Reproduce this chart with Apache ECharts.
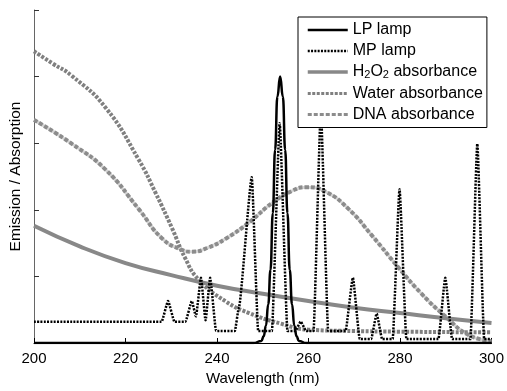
<!DOCTYPE html>
<html>
<head>
<meta charset="utf-8">
<script src="https://cdn.jsdelivr.net/npm/echarts@6/dist/echarts.min.js"></script>
<style>
  html, body { margin: 0; padding: 0; background: #fff; }
  #chart { width: 507px; height: 391px; }
</style>
</head>
<body>
<div id="chart"></div>
<script>
// wavelength ticks (nm)
const xTicks = [200, 220, 240, 260, 280, 300];

// [wavelength, relative value]
const lpLamp = [
  [200, 0], [248, 0], [249.7, 0.03], [250.2, 0.1], [250.7, 0.26], [251.2, 0.58],
  [251.7, 1.1], [252.2, 1.95], [252.7, 2.9], [253.2, 3.7], [253.8, 4.0],
  [254.4, 3.7], [254.9, 2.9], [255.4, 1.95], [255.9, 1.1], [256.4, 0.58],
  [256.9, 0.26], [257.4, 0.1], [257.9, 0.03], [259.5, 0], [300, 0]
];

const mpLamp = [
  [200, 0.32], [227.9, 0.32], [229.3, 0.63], [230.7, 0.32], [233.1, 0.32],
  [234.5, 0.63], [235.4, 0.4], [236.5, 0.98], [237.5, 0.34], [238.5, 0.98],
  [239.8, 0.18], [243.9, 0.18], [244.8, 0.54], [247.6, 2.49], [249.0, 0.18],
  [252.0, 0.18], [253.7, 3.3], [255.4, 0.18], [257.1, 0.18], [258.3, 0.32],
  [259.5, 0.18], [261.1, 0.18], [262.7, 3.5], [264.3, 0.18], [268.1, 0.18],
  [269.7, 0.98], [271.2, 0.06], [273.7, 0.06], [274.9, 0.44], [276.1, 0.06],
  [278.4, 0.06], [279.9, 2.31], [281.4, 0.06], [288.4, 0.06], [289.9, 0.98],
  [291.4, 0.06], [295.4, 0.06], [296.9, 2.99], [298.4, 0.06], [300, 0.06]
];

const h2o2Abs = [
  [200, 1.76], [210, 1.45], [220, 1.2], [230, 1.02], [240, 0.86], [250, 0.74],
  [260, 0.63], [270, 0.53], [280, 0.45], [290, 0.37], [300, 0.3]
];

const waterAbs = [
  [200, 4.38], [204, 4.2], [208.3, 4.01], [215.7, 3.53], [222.9, 2.75],
  [226.6, 2.25], [230.2, 1.72], [233, 1.28], [236, 0.95], [242, 0.62],
  [247, 0.45], [254, 0.29], [260, 0.2], [270, 0.18], [280, 0.17], [300, 0.16]
];

const dnaAbs = [
  [200, 3.35], [208.3, 2.99], [215.7, 2.6], [222.9, 2.01], [228, 1.57],
  [232.3, 1.4], [234.5, 1.37], [238, 1.43], [242, 1.57], [247, 1.81],
  [252, 2.1], [256.3, 2.28], [259.4, 2.34], [263.8, 2.27], [268.8, 2.01],
  [273.8, 1.62], [279.7, 1.13], [284.7, 0.74], [289.9, 0.4], [295, 0.12],
  [300, 0.03]
];

const font = 'Liberation Sans, Arial, sans-serif';

const chart = echarts.init(document.getElementById('chart'));
chart.setOption({
  animation: false,
  backgroundColor: '#fff',
  textStyle: { fontFamily: font },
  grid: { left: 34, right: 14, top: 10, bottom: 41 },
  legend: {
    orient: 'vertical',
    left: 298,
    top: 17,
    padding: [5, 4, 5, 8],
    itemGap: 5,
    itemWidth: 40,
    itemHeight: 14,
    backgroundColor: '#fff',
    borderColor: '#000',
    borderWidth: 1,
    itemStyle: { opacity: 0 },
    textStyle: {
      fontSize: 16,
      color: '#000',
      fontFamily: font,
      rich: {
        n: { fontSize: 16, color: '#000', fontFamily: font },
        s: { fontSize: 11, color: '#000', fontFamily: font, verticalAlign: 'bottom', padding: [6, 0, 0, 0] }
      }
    },
    formatter: name => name === 'H2O2 absorbance'
      ? '{n|H}{s|2}{n|O}{s|2}{n| absorbance}'
      : name,
    data: [
      { name: 'LP lamp', lineStyle: { width: 2.5 } },
      { name: 'MP lamp', lineStyle: { width: 2.5 } },
      { name: 'H2O2 absorbance', lineStyle: { width: 3.5 } },
      { name: 'Water absorbance', lineStyle: { width: 3 } },
      { name: 'DNA absorbance', lineStyle: { width: 3 } }
    ]
  },
  xAxis: {
    type: 'value',
    min: 200,
    max: 300,
    interval: 20,
    name: 'Wavelength (nm)',
    nameLocation: 'middle',
    nameGap: 28,
    nameTextStyle: { fontSize: 15, color: '#000', fontFamily: font },
    axisLine: { lineStyle: { color: '#000', width: 1 } },
    axisTick: { inside: true, length: 5, lineStyle: { color: '#000' } },
    axisLabel: {
      fontSize: 15, color: '#000', margin: 8, fontFamily: font,
      formatter: v => xTicks.includes(v) ? String(v) : ''
    },
    splitLine: { show: false }
  },
  yAxis: {
    type: 'value',
    min: 0,
    max: 5,
    interval: 1,
    name: 'Emission / Absorption',
    nameLocation: 'middle',
    nameGap: 10,
    nameTextStyle: { fontSize: 15.5, color: '#000', fontFamily: font },
    axisLine: { show: true, lineStyle: { color: '#666', width: 1 } },
    axisTick: { show: true, inside: true, length: 5, lineStyle: { color: '#333' } },
    axisLabel: { show: false },
    splitLine: { show: false }
  },
  series: [
    {
      name: 'H2O2 absorbance', type: 'line', data: h2o2Abs, smooth: true,
      symbol: 'none', z: 2,
      lineStyle: { color: '#888', width: 4 }, itemStyle: { color: '#888' }
    },
    {
      name: 'Water absorbance', type: 'line', data: waterAbs, smooth: true,
      symbol: 'none', z: 2,
      lineStyle: { color: '#808080', width: 4, type: [3, 1.5] }, itemStyle: { color: '#808080' }
    },
    {
      // light fill between the DNA dashes
      name: 'DNA underlay', type: 'line', data: dnaAbs, smooth: true,
      symbol: 'none', z: 1, silent: true,
      lineStyle: { color: '#d4d4d4', width: 3 }
    },
    {
      name: 'DNA absorbance', type: 'line', data: dnaAbs, smooth: true,
      symbol: 'none', z: 2,
      lineStyle: { color: '#8c8c8c', width: 4, type: [4, 2] }, itemStyle: { color: '#8c8c8c' }
    },
    {
      name: 'MP lamp', type: 'line', data: mpLamp, smooth: 0.15, smoothMonotone: 'x',
      symbol: 'none', z: 3,
      lineStyle: { color: '#000', width: 2.5, type: [2, 1.3] }, itemStyle: { color: '#000' }
    },
    {
      name: 'LP lamp', type: 'line', data: lpLamp, smooth: true, smoothMonotone: 'x',
      symbol: 'none', z: 3,
      lineStyle: { color: '#000', width: 2.5 }, itemStyle: { color: '#000' }
    }
  ]
});
</script>
</body>
</html>
